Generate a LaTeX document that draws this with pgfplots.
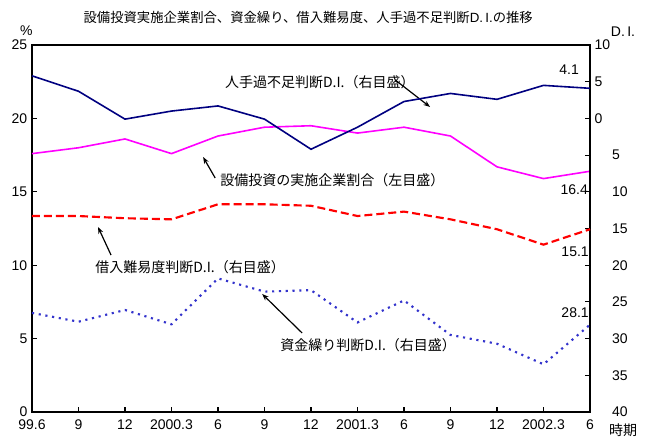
\documentclass[border=0pt]{standalone}
\usepackage{pgfplots}
\pgfplotsset{compat=1.18}
\usepackage{fontspec}
\setmainfont{Liberation Sans}
\newfontfamily\jp{Noto Sans CJK JP}
\usetikzlibrary{arrows.meta}

\definecolor{navyline}{RGB}{0,0,128}
\definecolor{magline}{RGB}{255,0,255}
\definecolor{dotblue}{RGB}{51,51,204}

\begin{document}
\begin{tikzpicture}[font=\fontsize{10.5}{12}\selectfont]
\pgfplotsset{
  every axis/.append style={
    scale only axis, width=418.5pt, height=275.25pt,
    at={(0,0)}, anchor=south west,
    xmin=0, xmax=12,
    tick align=inside,
    axis line style={line width=1.4pt},
    major tick length=4pt,
    tick style={black, line width=0.8pt},
    /pgf/number format/assume math mode=true,
    clip=false,
  },
}
% left axis: % values
\begin{axis}[
  ymin=0, ymax=25, ytick={0,5,...,25},
  xtick={0,...,12},
  xticklabels={99.6,9,12,2000.3,6,9,12,2001.3,6,9,12,2002.3,6},
  xtick pos=bottom, ytick pos=left,
  xticklabel style={yshift=-2pt},
]
\addplot[magline, line width=1.2pt] coordinates {
  (0,17.6)(1,18.0)(2,18.6)(3,17.6)(4,18.8)(5,19.4)(6,19.5)
  (7,19.0)(8,19.4)(9,18.8)(10,16.7)(11,15.9)(12,16.4)};

% annotations
\node[font=\jp\fontsize{10}{12}\selectfont] at (axis cs:5.94,26.9)
  {設備投資実施企業割合、資金繰り、借入難易度、人手過不足判断{\rmfamily D.\,I.}の推移};
\node at (axis cs:-0.12,26.0) {\%};
\node[anchor=west] at (axis cs:12.35,25.9) {D.\,I.};
\node[font=\jp\fontsize{10.5}{12}\selectfont] at (axis cs:12.71,-1.25) {時期};

\node[font=\jp\fontsize{10.5}{12}\selectfont] at (axis cs:6.19,22.5) {人手過不足判断D.I.（右目盛）};
\draw[-{Stealth[length=5pt]}, line width=0.9pt] (axis cs:7.81,22.62) -- (axis cs:8.56,20.78);
\node[font=\jp\fontsize{10.5}{12}\selectfont, anchor=west] at (axis cs:3.95,15.8) {設備投資の実施企業割合（左目盛）};
\draw[-{Stealth[length=5pt]}, line width=0.9pt] (axis cs:3.94,15.94) -- (axis cs:3.68,17.37);
\node[font=\jp\fontsize{10.5}{12}\selectfont] at (axis cs:3.40,9.88) {借入難易度判断D.I.（右目盛）};
\draw[-{Stealth[length=5pt]}, line width=0.9pt] (axis cs:1.70,10.69) -- (axis cs:1.42,12.60);
\node[font=\jp\fontsize{10.5}{12}\selectfont] at (axis cs:7.23,4.56) {資金繰り判断D.I.（右目盛）};
\draw[-{Stealth[length=5pt]}, line width=0.9pt] (axis cs:5.81,5.38) -- (axis cs:4.95,8.04);

\node at (axis cs:11.55,23.3) {4.1};
\node at (axis cs:11.66,15.12) {16.4};
\node at (axis cs:11.68,10.9) {15.1};
\node at (axis cs:11.68,6.74) {28.1};
\end{axis}

% right axis: D.I.
\begin{axis}[
  ymin=-40, ymax=10, ytick={-40,-35,...,10},
  yticklabels={\hspace*{13pt}40,\hspace*{13pt}35,\hspace*{13pt}30,\hspace*{13pt}25,\hspace*{13pt}20,\hspace*{13pt}15,\hspace*{13pt}10,\hspace*{13pt}5,0,5,10},
  axis y line*=right, hide x axis,
  ytick pos=right,
]
\addplot[navyline, line width=1.2pt] coordinates {
  (0,5.8)(1,3.7)(2,-0.1)(3,1.0)(4,1.7)(5,-0.1)(6,-4.2)
  (7,-1.2)(8,2.3)(9,3.4)(10,2.6)(11,4.5)(12,4.1)};
\addplot[red, line width=1.6pt, dash pattern=on 6pt off 3pt] coordinates {
  (0,-13.3)(1,-13.3)(2,-13.6)(3,-13.75)(4,-11.7)(5,-11.7)(6,-11.9)
  (7,-13.3)(8,-12.7)(9,-13.75)(10,-15.1)(11,-17.2)(12,-15.1)};
\addplot[dotblue, line width=1.6pt, dash pattern=on 1.6pt off 3.5pt] coordinates {
  (0,-26.5)(1,-27.7)(2,-26.1)(3,-28.05)(4,-21.8)(5,-23.6)(6,-23.4)
  (7,-27.8)(8,-24.8)(9,-29.5)(10,-30.7)(11,-33.5)(12,-28.1)};
\end{axis}
\useasboundingbox (-24pt,-21pt) rectangle (461.25pt,309pt);
\end{tikzpicture}
\end{document}
